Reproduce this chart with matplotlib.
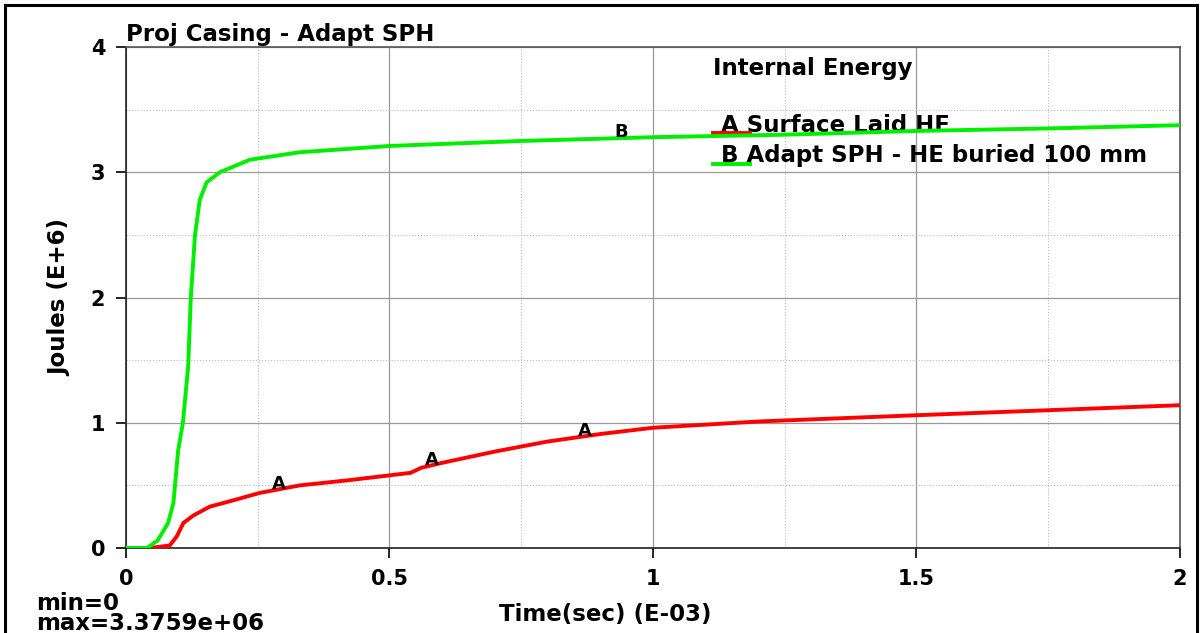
import numpy as np
import matplotlib.pyplot as plt
from matplotlib.patches import Rectangle
from matplotlib.ticker import MultipleLocator, FormatStrFormatter, FuncFormatter

plt.rcParams.update({
    'font.family': 'DejaVu Sans',
    'font.weight': 'bold',
    'axes.labelweight': 'bold',
    'font.size': 16.5,
})

# curve A - surface laid HE (red)
time_a = [0, 0.046, 0.083, 0.096, 0.109, 0.128, 0.159, 0.203, 0.254, 0.33, 0.42, 0.5,
          0.54, 0.56, 0.6, 0.7, 0.8, 0.9, 1.0, 1.2, 1.5, 1.75, 2.0]
energy_a = [0, 0, 0.02, 0.09, 0.2, 0.26, 0.33, 0.38, 0.44, 0.5, 0.54, 0.58,
            0.6, 0.64, 0.68, 0.77, 0.85, 0.91, 0.96, 1.01, 1.06, 1.1, 1.14]

# curve B - adapt SPH, HE buried 100 mm (green)
time_b = [0, 0.03, 0.04, 0.06, 0.08, 0.09, 0.099, 0.108, 0.118, 0.123, 0.131, 0.14,
          0.153, 0.178, 0.235, 0.33, 0.5, 0.75, 1.0, 1.25, 1.5, 1.75, 2.0]
energy_b = [0, 0, 0, 0.06, 0.2, 0.36, 0.78, 1.0, 1.45, 2.0, 2.5, 2.78,
            2.92, 3.0, 3.10, 3.16, 3.21, 3.25, 3.28, 3.30, 3.33, 3.35, 3.376]

labels_a_x = [0.29, 0.58, 0.87]
labels_b_x = [0.94]

red = '#ff0000'
green = '#00ee00'

fig = plt.figure(figsize=(12.01, 6.33), dpi=100)
ax = fig.add_axes([0.1049, 0.1343, 0.8776, 0.7914])

ax.plot(time_a, energy_a, color=red, lw=2.8, zorder=4, solid_capstyle='butt')
ax.plot(time_b, energy_b, color=green, lw=2.8, zorder=5, solid_capstyle='butt')

# curve letters placed along the lines
for xa in labels_a_x:
    ax.text(xa, np.interp(xa, time_a, energy_a) + 0.04, 'A', ha='center', va='center',
            fontsize=13, zorder=6)
for xb in labels_b_x:
    ax.text(xb, np.interp(xb, time_b, energy_b) + 0.05, 'B', ha='center', va='center',
            fontsize=13, zorder=6)

ax.set_xlim(0, 2)
ax.set_ylim(0, 4)
ax.xaxis.set_major_locator(MultipleLocator(0.5))
ax.xaxis.set_minor_locator(MultipleLocator(0.25))
ax.yaxis.set_major_locator(MultipleLocator(1))
ax.yaxis.set_minor_locator(MultipleLocator(0.5))
ax.xaxis.set_major_formatter(FuncFormatter(lambda v, p: f'{v:g}'))
ax.yaxis.set_major_formatter(FuncFormatter(lambda v, p: f'{v:g}'))

ax.grid(which='major', color='#999999', lw=0.9, ls='-')
ax.grid(which='minor', color='#bbbbbb', lw=0.8, ls=':')
ax.set_axisbelow(True)
ax.tick_params(which='major', direction='out', length=7, width=1.2, labelsize=15, pad=8)
ax.tick_params(which='minor', length=0)
for s in ax.spines.values():
    s.set_color('#555555')
    s.set_linewidth(1.2)
ax.spines['left'].set_color('#222222')
ax.spines['bottom'].set_color('#222222')

ax.text(0.0, 1.003, 'Proj Casing - Adapt SPH', transform=ax.transAxes, ha='left', va='bottom')
ax.set_ylabel('Joules (E+6)', labelpad=14)
fig.text(605 / 1201, 1 - 615 / 633, 'Time(sec) (E-03)', ha='center', va='center')
fig.text(36 / 1201, 1 - 604 / 633, 'min=0', ha='left', va='center')
fig.text(36 / 1201, 1 - 624 / 633, 'max=3.3759e+06', ha='left', va='center')

# legend drawn by hand like the LS-PrePost plot
ax.text(1.113, 3.83, 'Internal Energy', ha='left', va='center', zorder=3)
ax.text(1.13, 3.37, 'A Surface Laid HE', ha='left', va='center', zorder=3)
ax.text(1.13, 3.13, 'B Adapt SPH - HE buried 100 mm', ha='left', va='center', zorder=3)
ax.plot([1.113, 1.185], [3.31, 3.31], color=red, lw=2.8, zorder=3)
ax.plot([1.113, 1.185], [3.07, 3.07], color=green, lw=2.8, zorder=3)

fig.patches.append(Rectangle((5 / 1201, -0.01), 1192 / 1201, 1 - 5 / 633 + 0.01,
                             transform=fig.transFigure, fill=False, ec='black', lw=2.2))

fig.savefig('out.png', dpi=100)
